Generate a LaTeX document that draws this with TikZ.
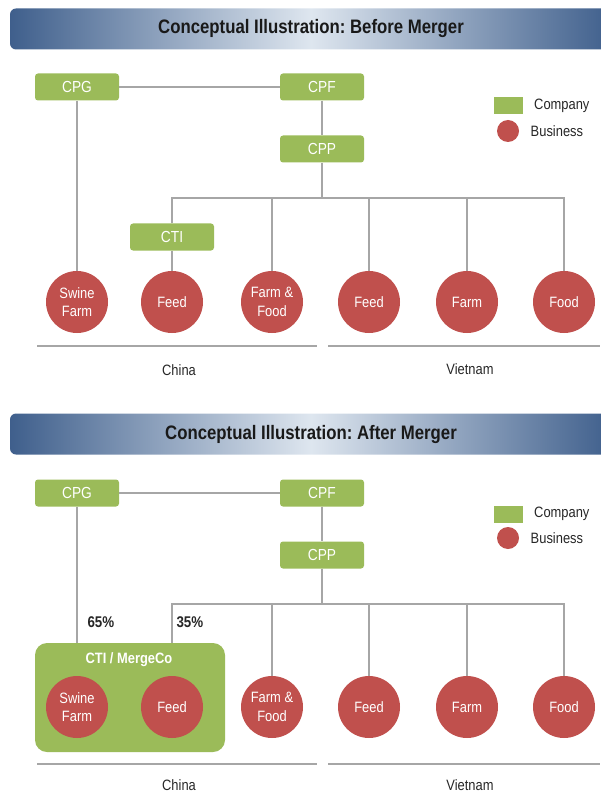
\documentclass[tikz,border=0pt]{standalone}
\usepackage{fontspec}
\setmainfont[FakeStretch=0.86]{Liberation Sans}
\usepackage{tikz}
\usetikzlibrary{positioning}
\frenchspacing
\definecolor{cogreen}{HTML}{9BBB59}
\definecolor{bizred}{HTML}{C0504D}
\definecolor{linegray}{HTML}{A6A6A6}
\definecolor{bardark}{HTML}{3F5F8C}
\definecolor{barlight}{HTML}{DEE6EF}
\tikzset{
    company/.style={rectangle, rounded corners=3pt, fill=cogreen,
        minimum width=84pt, minimum height=27pt, text=white,
        font=\fontsize{16}{18}\selectfont},
    business/.style={circle, fill=bizred, minimum size=62pt, inner sep=0pt,
        text=white, align=center, font=\fontsize{15}{18.5}\selectfont},
    titlebar/.style={rectangle, rounded corners=6pt, minimum width=602pt,
        minimum height=41pt, left color=bardark, right color=bardark,
        middle color=barlight, text=black!90,
        font=\bfseries\fontsize{19.5}{22}\selectfont},
    keybox/.style={rectangle, fill=cogreen, minimum width=29pt,
        minimum height=17pt, inner sep=0pt},
    keydot/.style={circle, fill=bizred, minimum size=22pt, inner sep=0pt},
    note/.style={font=\fontsize{15}{17}\selectfont, text=black!85},
    link/.style={draw=linegray, line width=2.4pt},
    ground/.style={draw=linegray, line width=2pt}
}

\begin{document}
\begin{tikzpicture}[x=1pt,y=-1pt]
        \useasboundingbox (0,0) rectangle (600,794);
        % before merger
        \node[titlebar] at (311,29) (title1) {Conceptual Illustration: Before Merger};
        \node[company] at (77,87) (cpg1) {CPG};
        \node[company] at (322,87) (cpf1) {CPF};
        \node[company] at (322,149) (cpp1) {CPP};
        \node[company] at (172,237) (cti1) {CTI};
        \coordinate (bus1) at (322,198);
        \node[business] at (77,302) (swine1) {Swine\\Farm};
        \node[business] at (172,302) (feedcn1) {Feed};
        \node[business] at (272,302) (ffood1) {Farm \&\\Food};
        \node[business] at (369,302) (feedvn1) {Feed};
        \node[business] at (467,302) (farm1) {Farm};
        \node[business] at (564,302) (food1) {Food};
        \node[keybox] at (508,106) (keyco1) {};
        \node[keydot] at (508,131) (keybiz1) {};
        \node[note, right=8pt of keyco1] (keycotext1) {Company};
        \node[note, right=8pt of keybiz1] (keybiztext1) {Business};
        \draw[link] (cpg1) -- (cpf1);
        \draw[link] (cpf1) -- (cpp1);
        \draw[link] (cpp1) -- (bus1);
        \draw[link] (cti1) |- (food1 |- bus1) -- (food1);
        \draw[link] (cti1) -- (feedcn1);
        \draw[link] (cpg1) -- (swine1);
        \draw[link] (ffood1 |- bus1) -- (ffood1);
        \draw[link] (feedvn1 |- bus1) -- (feedvn1);
        \draw[link] (farm1 |- bus1) -- (farm1);
        \draw[ground] (37,346) -- (317,346);
        \draw[ground] (328,346) -- (600,346);
        \node[note] at (179,370) (china1) {China};
        \node[note] at (470,369) (vietnam1) {Vietnam};
        % after merger
        \node[titlebar] at (311,434) (title2) {Conceptual Illustration: After Merger};
        \node[company] at (77,493) (cpg2) {CPG};
        \node[company] at (322,493) (cpf2) {CPF};
        \node[company] at (322,555) (cpp2) {CPP};
        \coordinate (bus2) at (322,604);
        \node[company, rounded corners=12pt, minimum width=190pt,
            minimum height=109pt] at (130,697.5) (mergeco) {};
        \node[text=white, font=\bfseries\fontsize{15}{17}\selectfont]
            at (129,660) (mergetext) {CTI / MergeCo};
        \node[business] at (77,707) (swine2) {Swine\\Farm};
        \node[business] at (172,707) (feedcn2) {Feed};
        \node[business] at (272,707) (ffood2) {Farm \&\\Food};
        \node[business] at (369,707) (feedvn2) {Feed};
        \node[business] at (467,707) (farm2) {Farm};
        \node[business] at (564,707) (food2) {Food};
        \node[keybox] at (508,514) (keyco2) {};
        \node[keydot] at (508,538) (keybiz2) {};
        \node[note, right=8pt of keyco2] (keycotext2) {Company};
        \node[note, right=8pt of keybiz2] (keybiztext2) {Business};
        \draw[link] (cpg2) -- (cpf2);
        \draw[link] (cpf2) -- (cpp2);
        \draw[link] (cpp2) -- (bus2);
        \draw[link] (mergeco.north -| feedcn2) |- (food2 |- bus2) -- (food2);
        \draw[link] (cpg2) -- (cpg2 |- mergeco.north);
        \draw[link] (ffood2 |- bus2) -- (ffood2);
        \draw[link] (feedvn2 |- bus2) -- (feedvn2);
        \draw[link] (farm2 |- bus2) -- (farm2);
        \node[note, font=\bfseries\fontsize{15.5}{17}\selectfont, anchor=west]
            at (84,622) (share65) {65\%};
        \node[note, font=\bfseries\fontsize{15.5}{17}\selectfont, anchor=west]
            at (173,622) (share35) {35\%};
        \draw[ground] (37,764) -- (317,764);
        \draw[ground] (328,764) -- (600,764);
        \node[note] at (179,785) (china2) {China};
        \node[note] at (470,785) (vietnam2) {Vietnam};
    \end{tikzpicture}
\end{document}
